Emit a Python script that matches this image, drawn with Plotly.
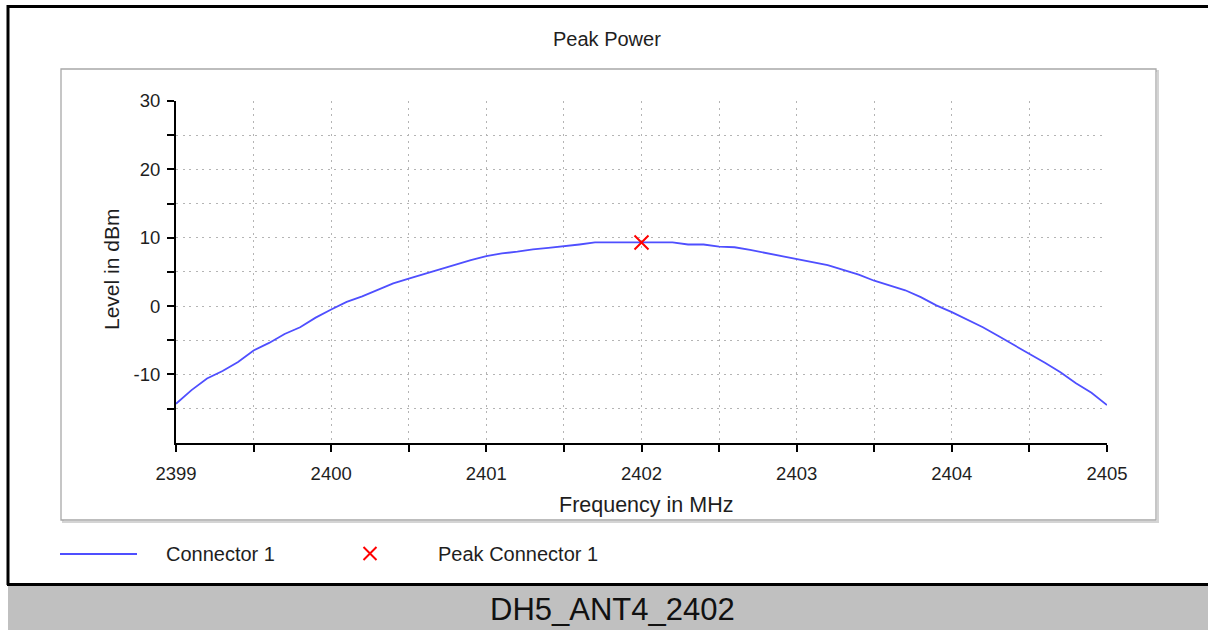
import plotly.graph_objects as go

W, H = 1208, 630

# ---------------- data ----------------
freq_mhz = [
    2399.0, 2399.1, 2399.2, 2399.3, 2399.4, 2399.5, 2399.6, 2399.7, 2399.8, 2399.9,
    2400.0, 2400.1, 2400.2, 2400.3, 2400.4, 2400.5, 2400.6, 2400.7, 2400.8, 2400.9,
    2401.0, 2401.1, 2401.2, 2401.3, 2401.4, 2401.5, 2401.6, 2401.7, 2401.8, 2401.9,
    2402.0, 2402.1, 2402.2, 2402.3, 2402.4, 2402.5, 2402.6, 2402.7, 2402.8, 2402.9,
    2403.0, 2403.1, 2403.2, 2403.3, 2403.4, 2403.5, 2403.6, 2403.7, 2403.8, 2403.9,
    2404.0, 2404.1, 2404.2, 2404.3, 2404.4, 2404.5, 2404.6, 2404.7, 2404.8, 2404.9,
    2405.0,
]
level_dbm = [
    -14.3, -12.3, -10.6, -9.5, -8.2, -6.5, -5.4, -4.1, -3.1, -1.7,
    -0.5, 0.6, 1.4, 2.3, 3.3, 4.0, 4.7, 5.4, 6.0, 6.7,
    7.3, 7.7, 7.95, 8.3, 8.5, 8.7, 9.0, 9.3, 9.3, 9.3,
    9.3, 9.3, 9.3, 9.0, 9.0, 8.7, 8.6, 8.2, 7.75, 7.4,
    6.85, 6.4, 6.0, 5.3, 4.6, 3.7, 3.0, 2.3, 1.3, 0.1,
    -0.9, -2.0, -3.1, -4.4, -5.7, -6.9, -8.3, -9.7, -11.3, -12.7,
    -14.5,
]
peak_freq = [2402.0]
peak_level = [9.3]

x_tick_vals = [2399.0, 2399.5, 2400.0, 2400.5, 2401.0, 2401.5, 2402.0,
               2402.5, 2403.0, 2403.5, 2404.0, 2404.5, 2405.0]
x_tick_text = ["2399", "", "2400", "", "2401", "", "2402",
               "", "2403", "", "2404", "", "2405"]
y_tick_vals = [-15, -10, -5, 0, 5, 10, 15, 20, 25, 30]
y_tick_text = ["", "-10", "", "0", "", "10", "", "20", "", "30"]

series_names = ["Connector 1", "Peak Connector 1"]
chart_title = "Peak Power"
x_title = "Frequency in MHz"
y_title = "Level in dBm"
footer_text = "DH5_ANT4_2402"

# ---------------- styling / layout ----------------
FONT = "Liberation Sans, Arial, Helvetica, sans-serif"
TXT = "#1e1e1e"
LINE_BLUE = "#4f4fff"
PEAK_RED = "#ff0000"


def fx(p):
    return p / W


def fy(p):
    return 1 - p / H


X0, X1 = 176, 1107      # plot area, px
YT, YB = 101, 442.7

fig = go.Figure()
fig.add_trace(go.Scatter(
    x=freq_mhz, y=level_dbm, mode="lines", name=series_names[0],
    line=dict(color=LINE_BLUE, width=1.8), showlegend=False,
))
fig.add_trace(go.Scatter(
    x=peak_freq, y=peak_level, mode="markers", name=series_names[1],
    marker=dict(symbol="x-thin", size=14, color=PEAK_RED,
                line=dict(color=PEAK_RED, width=2)), showlegend=False,
))

grid = dict(showgrid=True, gridcolor="#b4b4b4", gridwidth=1.4, griddash="2px,4.6px")
tickfont = dict(size=18.5, family=FONT, color=TXT)

# legend glyph geometry (px)
LEG_Y = 554
LEG_LINE = (60, 137)
LEG_TEXT1_X = 164
LEG_X_MARK = (370, 553.5, 6.5)
LEG_TEXT2_X = 436

cx, cy, r = LEG_X_MARK
x_path = (f"M{fx(cx - r)},{fy(cy - r)} L{fx(cx + r)},{fy(cy + r)} "
          f"M{fx(cx - r)},{fy(cy + r)} L{fx(cx + r)},{fy(cy - r)}")

fig.update_layout(
    width=W, height=H,
    margin=dict(l=0, r=0, t=0, b=0),
    paper_bgcolor="white", plot_bgcolor="white",
    font=dict(family=FONT, color=TXT),
    showlegend=False,
    xaxis=dict(
        domain=[fx(X0), fx(X1)], range=[2399, 2405],
        tickmode="array", tickvals=x_tick_vals, ticktext=x_tick_text,
        ticks="outside", ticklen=7, tickwidth=2, tickcolor="black",
        showline=True, linecolor="black", linewidth=2,
        zeroline=False, automargin=False, tickfont=tickfont,
        ticklabelstandoff=6, **grid,
    ),
    yaxis=dict(
        domain=[fy(YB), fy(YT)], range=[-20, 30],
        tickmode="array", tickvals=y_tick_vals, ticktext=y_tick_text,
        ticks="outside", ticklen=7, tickwidth=2, tickcolor="black",
        showline=True, linecolor="black", linewidth=2,
        zeroline=False, automargin=False, tickfont=tickfont,
        ticklabelstandoff=3, **grid,
    ),
    xaxis2=dict(
        overlaying="x", anchor="y", range=[2399, 2405],
        tickmode="array", tickvals=x_tick_vals,
        ticks="inside", ticklen=6, tickwidth=2, tickcolor="black",
        showticklabels=False, showgrid=False, zeroline=False, showline=False,
    ),
    yaxis2=dict(
        overlaying="y", anchor="x", side="left", range=[-20, 30],
        tickmode="array", tickvals=y_tick_vals,
        ticks="inside", ticklen=7, tickwidth=2, tickcolor="black",
        showticklabels=False, showgrid=False, zeroline=False, showline=False,
    ),
    annotations=[
        dict(text=chart_title, x=fx(607), y=fy(39), xref="paper", yref="paper",
             showarrow=False, xanchor="center", yanchor="middle",
             font=dict(size=20, family=FONT, color=TXT)),
        dict(text=x_title, x=fx(646), y=fy(505), xref="paper", yref="paper",
             showarrow=False, xanchor="center", yanchor="middle",
             font=dict(size=21.5, family=FONT, color=TXT)),
        dict(text=y_title, x=fx(111), y=fy(270), xref="paper", yref="paper",
             showarrow=False, xanchor="center", yanchor="middle", textangle=-90,
             font=dict(size=21, family=FONT, color=TXT)),
        dict(text=series_names[0], x=fx(LEG_TEXT1_X), y=fy(LEG_Y), xref="paper", yref="paper",
             showarrow=False, xanchor="left", yanchor="middle",
             font=dict(size=20, family=FONT, color=TXT)),
        dict(text=series_names[1], x=fx(LEG_TEXT2_X), y=fy(LEG_Y), xref="paper", yref="paper",
             showarrow=False, xanchor="left", yanchor="middle",
             font=dict(size=20, family=FONT, color=TXT)),
        dict(text=footer_text, x=fx(612), y=fy(609), xref="paper", yref="paper",
             showarrow=False, xanchor="center", yanchor="middle",
             font=dict(size=31, family=FONT, color="#111111")),
    ],
    shapes=[
        # footer band
        dict(type="rect", xref="paper", yref="paper", x0=fx(8), x1=1.0,
             y0=fy(585), y1=0.0, fillcolor="#c0c0c0", line=dict(width=0), layer="below"),
        # inner panel shadow and border
        dict(type="rect", xref="paper", yref="paper", x0=fx(63), x1=fx(1158),
             y0=fy(522), y1=fy(71), line=dict(color="#d4d4d4", width=2), layer="below"),
        dict(type="rect", xref="paper", yref="paper", x0=fx(61), x1=fx(1156),
             y0=fy(520), y1=fy(69), fillcolor="white",
             line=dict(color="#a8a8a8", width=1.3), layer="below"),
        # outer frame
        dict(type="line", xref="paper", yref="paper", x0=fx(7), x1=1.0,
             y0=fy(6.5), y1=fy(6.5), line=dict(color="black", width=3)),
        dict(type="line", xref="paper", yref="paper", x0=fx(8), x1=fx(8),
             y0=fy(5), y1=fy(585), line=dict(color="black", width=3)),
        dict(type="line", xref="paper", yref="paper", x0=fx(7), x1=1.0,
             y0=fy(584.5), y1=fy(584.5), line=dict(color="black", width=3)),
        # legend glyphs
        dict(type="line", xref="paper", yref="paper", x0=fx(LEG_LINE[0]), x1=fx(LEG_LINE[1]),
             y0=fy(LEG_Y), y1=fy(LEG_Y), line=dict(color=LINE_BLUE, width=1.8)),
        dict(type="path", xref="paper", yref="paper", path=x_path,
             line=dict(color=PEAK_RED, width=2)),
    ],
)

fig.write_html(
    "out.html",
    config={"displayModeBar": False},
    post_script=("document.documentElement.style.overflow='hidden';"
                 "document.body.style.margin='0px';"
                 "document.body.style.overflow='hidden';"),
)
